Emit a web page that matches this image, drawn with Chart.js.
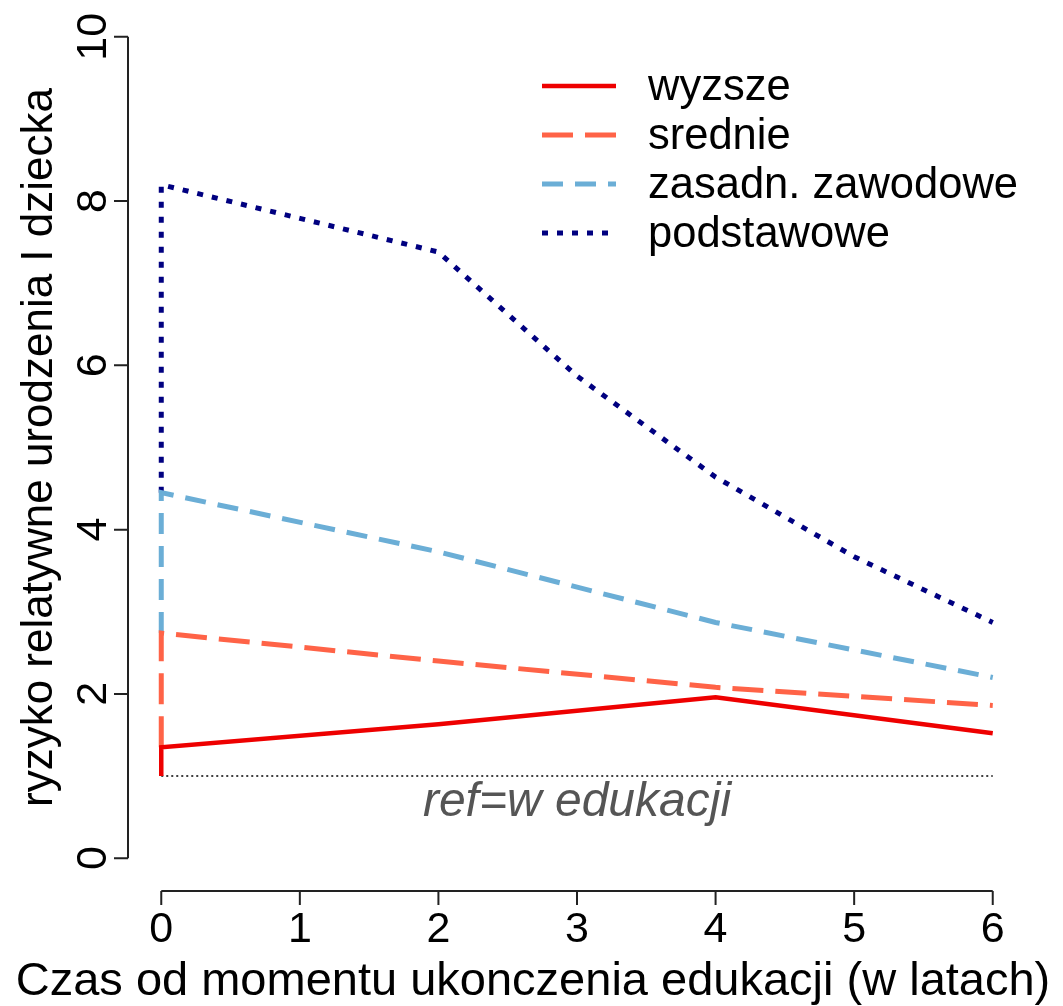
<!DOCTYPE html>
<html>
<head>
<meta charset="utf-8">
<script src="https://cdn.jsdelivr.net/npm/chart.js@4/dist/chart.umd.min.js"></script>
<style>
  html, body { margin: 0; padding: 0; background: #fff; }
  #wrap { width: 1063px; height: 1006px; }
</style>
</head>
<body>
<div id="wrap"><canvas id="chart" width="1063" height="1006"></canvas></div>
<script>
// values
const years = [0, 2, 4, 6];
const yearsBasic = [0, 1, 2, 3, 4, 5, 6];
const refLevel = 1;

const wyzsze = [1.35, 1.63, 1.96, 1.52];
const srednie = [2.74, 2.40, 2.08, 1.86];
const zasadnicze = [4.45, 3.73, 2.87, 2.20];
const podstawowe = [8.20, 7.79, 7.38, 5.87, 4.64, 3.67, 2.87];

const seriesLabels = ['wyzsze', 'srednie', 'zasadn. zawodowe', 'podstawowe'];
const xTicks = [0, 1, 2, 3, 4, 5, 6];
const yTicks = [0, 2, 4, 6, 8, 10];

const xTitle = 'Czas od momentu ukonczenia edukacji (w latach)';
const yTitle = 'ryzyko relatywne urodzenia I dziecka';
const refText = 'ref=w edukacji';

const FONT = "'Liberation Sans', Arial, sans-serif";

// each line jumps up at year 0 from where the previous one started
function toPoints(xs, ys, from) {
  return [{ x: xs[0], y: from }].concat(xs.map((x, i) => ({ x, y: ys[i] })));
}

const lineStyles = [
  { color: '#EE0000', dash: [], width: 4.5 },
  { color: '#FF6347', dash: [31, 12], width: 5 },
  { color: '#6BAED6', dash: [21, 12], width: 5 },
  { color: '#000080', dash: [6, 9], width: 5 },
];

const seriesData = [
  toPoints(years, wyzsze, refLevel),
  toPoints(years, srednie, wyzsze[0]),
  toPoints(years, zasadnicze, srednie[0]),
  toPoints(yearsBasic, podstawowe, zasadnicze[0]),
];

const datasets = seriesData.map((pts, i) => ({
  label: seriesLabels[i],
  data: pts,
  borderColor: lineStyles[i].color,
  borderDash: lineStyles[i].dash,
  borderWidth: lineStyles[i].width,
  borderCapStyle: 'butt',
  pointRadius: 0,
  tension: 0,
  fill: false,
}));

datasets.push({
  label: 'ref',
  data: [{ x: xTicks[0], y: refLevel }, { x: xTicks[xTicks.length - 1], y: refLevel }],
  borderColor: '#000',
  borderDash: [2, 3],
  borderWidth: 1.5,
  pointRadius: 0,
  fill: false,
});

// R style detached axes, legend and annotation
const rStyle = {
  id: 'rStyle',
  afterDraw(chart) {
    const { ctx, chartArea, scales: { x, y } } = chart;
    ctx.save();

    // axes
    ctx.strokeStyle = '#222';
    ctx.lineWidth = 2;
    const ax = chartArea.left;
    const ay = chartArea.bottom;
    ctx.beginPath();
    ctx.moveTo(ax, y.getPixelForValue(yTicks[0]));
    ctx.lineTo(ax, y.getPixelForValue(yTicks[yTicks.length - 1]));
    yTicks.forEach(v => {
      const py = y.getPixelForValue(v);
      ctx.moveTo(ax, py);
      ctx.lineTo(ax - 14, py);
    });
    ctx.moveTo(x.getPixelForValue(xTicks[0]), ay);
    ctx.lineTo(x.getPixelForValue(xTicks[xTicks.length - 1]), ay);
    xTicks.forEach(v => {
      const px = x.getPixelForValue(v);
      ctx.moveTo(px, ay);
      ctx.lineTo(px, ay + 14);
    });
    ctx.stroke();

    // tick labels
    ctx.fillStyle = '#000';
    ctx.font = `43px ${FONT}`;
    ctx.textAlign = 'center';
    ctx.textBaseline = 'middle';
    xTicks.forEach(v => {
      ctx.fillText(String(v), x.getPixelForValue(v), ay + 39);
    });
    yTicks.forEach(v => {
      ctx.save();
      ctx.translate(ax - 34, y.getPixelForValue(v));
      ctx.rotate(-Math.PI / 2);
      ctx.fillText(String(v), 0, 0);
      ctx.restore();
    });

    // axis titles
    ctx.font = `47px ${FONT}`;
    ctx.fillText(xTitle, 533, 982);
    ctx.font = `44px ${FONT}`;
    ctx.save();
    ctx.translate(40, (y.getPixelForValue(yTicks[0]) + y.getPixelForValue(yTicks[yTicks.length - 1])) / 2);
    ctx.rotate(-Math.PI / 2);
    ctx.fillText(yTitle, 0, 0);
    ctx.restore();

    // reference annotation
    ctx.font = `italic 48px ${FONT}`;
    ctx.fillStyle = '#555';
    ctx.fillText(refText, x.getPixelForValue(3), y.getPixelForValue(0.67));

    // legend
    const lx0 = 542, lx1 = 616, tx = 648, top = 86, step = 49;
    ctx.font = `43.5px ${FONT}`;
    ctx.textAlign = 'left';
    ctx.fillStyle = '#000';
    seriesLabels.forEach((lab, i) => {
      const ry = top + i * step;
      const st = lineStyles[i];
      ctx.strokeStyle = st.color;
      ctx.lineWidth = st.width;
      ctx.setLineDash(st.dash);
      ctx.lineCap = 'butt';
      ctx.beginPath();
      ctx.moveTo(lx0, ry);
      ctx.lineTo(lx1, ry);
      ctx.stroke();
      ctx.fillText(lab, tx, ry + 2);
    });
    ctx.setLineDash([]);
    ctx.restore();
  }
};

new Chart(document.getElementById('chart'), {
  type: 'line',
  data: { datasets },
  options: {
    responsive: false,
    animation: false,
    devicePixelRatio: 1,
    layout: { padding: { left: 128, right: 37, top: 4, bottom: 115 } },
    scales: {
      x: { type: 'linear', min: -0.24, max: 6.24, display: false },
      y: { type: 'linear', min: -0.4, max: 10.4, display: false },
    },
    plugins: { legend: { display: false }, tooltip: { enabled: false } },
    elements: { line: { tension: 0 } },
  },
  plugins: [rStyle],
});
</script>
</body>
</html>
